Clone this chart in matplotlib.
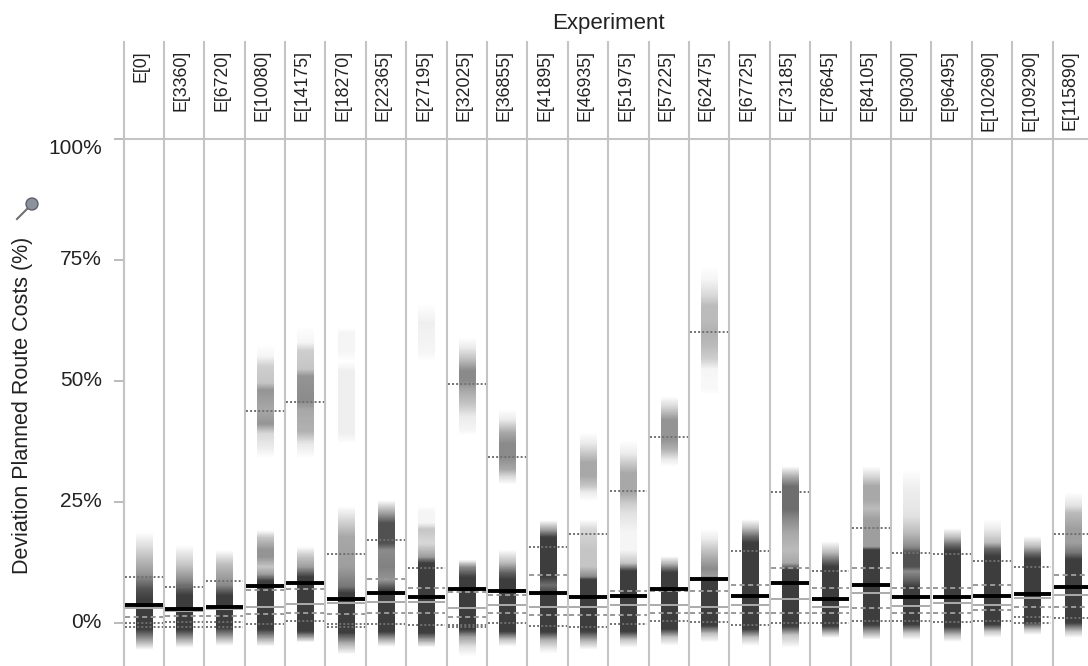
import numpy as np
import matplotlib.pyplot as plt
from matplotlib import font_manager
from matplotlib.colors import LinearSegmentedColormap
from matplotlib.transforms import blended_transform_factory
from matplotlib.patches import Ellipse

plt.rcParams['font.family'] = ['Liberation Sans', 'DejaVu Sans']

# experiment columns
experiments = ['E[0]', 'E[3360]', 'E[6720]', 'E[10080]', 'E[14175]', 'E[18270]',
               'E[22365]', 'E[27195]', 'E[32025]', 'E[36855]', 'E[41895]', 'E[46935]',
               'E[51975]', 'E[57225]', 'E[62475]', 'E[67725]', 'E[73185]', 'E[78645]',
               'E[84105]', 'E[90300]', 'E[96495]', 'E[102690]', 'E[109290]', 'E[115890]']

# summary statistics per experiment (%)
p90 = [9.5, 7.4, 8.7, 43.8, 45.5, 14.2, 17.1, 11.2, 49.3, 34.3, 15.7, 18.3,
       27.3, 38.4, 60.0, 14.9, 26.9, 10.7, 19.5, 14.5, 14.2, 12.8, 11.6, 18.3]
q3 = [3.7, 2.9, 3.3, 6.8, 7.0, 4.8, 9.0, 7.1, 6.3, 5.7, 9.85, 5.25,
      6.6, 6.5, 6.6, 7.8, 11.2, 7.1, 11.2, 7.1, 7.1, 7.8, 5.9, 9.85]
means = [3.7, 2.8, 3.15, 7.65, 8.1, 4.8, 6.1, 5.25, 6.9, 6.6, 6.1, 5.25,
         5.6, 6.9, 8.96, 5.6, 8.1, 4.8, 7.8, 5.25, 5.25, 5.6, 5.9, 7.3]
medians = [3.0, 2.5, 2.8, 3.3, 3.9, 4.0, 4.35, 4.35, 3.0, 3.7, 3.3, 3.3,
           3.7, 3.7, 3.3, 3.7, 4.9, 3.3, 6.2, 3.4, 4.0, 3.7, 5.0, 5.7]
q1 = [1.25, 1.3, 1.3, 1.7, 2.1, 1.7, 2.1, 2.1, 1.25, 2.1, 1.6, 1.6,
      1.6, 2.1, 2.1, 2.1, 2.1, 2.1, 3.0, 2.1, 2.1, 2.6, 3.3, 3.3]
p10 = [0.0, 0.1, 0.1, -0.3, 0.4, -0.3, -0.3, -0.5, -0.5, 0.0, -0.6, -0.8,
       -0.3, 0.4, 0.2, -0.5, 0.0, 0.0, 0.4, 0.4, 0.2, 0.4, 1.25, 0.9]
p5 = [-0.8, -0.8, -0.8, None, None, -0.8, None, None, -0.8, None, None, None,
      None, None, None, None, None, None, None, None, None, None, 0.0, None]

# density strips: (value %, darkness 0..1)
density = [
    [(18.5, 0), (16, 0.15), (13, 0.35), (9.8, 0.55), (6.7, 0.9), (4.7, 1), (-1.5, 1), (-3.6, 0.5), (-5.7, 0)],
    [(16, 0), (11.9, 0.3), (8.8, 0.6), (5.7, 1), (-1.5, 1), (-3.6, 0.4), (-5.2, 0)],
    [(15, 0), (11.9, 0.35), (7.8, 0.6), (5.7, 1), (-1.1, 1), (-3.2, 0.4), (-4.8, 0)],
    [(57.4, 0), (55, 0.05), (52.9, 0.25), (49.5, 0.3), (48, 0.55), (44, 0.45), (41, 0.55), (39, 0.2),
     (35.7, 0.08), (34, 0), (19, 0), (17.5, 0.3), (15, 0.55), (13.5, 0.55), (11.5, 0.3), (10, 0.5),
     (8.5, 1), (-1.5, 1), (-3.5, 0.4), (-5, 0)],
    [(61.5, 0), (58, 0.05), (56.3, 0.25), (52.5, 0.3), (51, 0.55), (46, 0.6), (44, 0.45), (39.5, 0.4),
     (37, 0.12), (34, 0), (15.7, 0), (13.6, 0.3), (11.5, 0.5), (9.4, 1), (-1.9, 1), (-4.2, 0)],
    [(61, 0), (60, 0.05), (56, 0.05), (54, 0), (52, 0.08), (39, 0.08), (37, 0), (24, 0), (21.2, 0.2),
     (17.7, 0.45), (11.5, 0.5), (7.4, 0.7), (6.1, 1), (-2.2, 1), (-4.5, 0.4), (-6.7, 0)],
    [(25.3, 0), (22.6, 0.5), (20.6, 0.9), (16.4, 0.9), (15, 0.6), (11.5, 0.65), (8.8, 0.55), (6.7, 1),
     (-1.9, 1), (-3.6, 0.4), (-5, 0)],
    [(66, 0), (62, 0.08), (56, 0.05), (54, 0), (24, 0), (23, 0.05), (20.6, 0.05), (19.2, 0.3), (16.4, 0.2),
     (13.6, 0.5), (12.3, 1), (-2.2, 1), (-3.9, 0.4), (-5.2, 0)],
    [(59, 0), (57, 0.1), (54.3, 0.35), (52.2, 0.6), (50.1, 0.6), (48, 0.45), (45.3, 0.3), (42.6, 0.1),
     (39.8, 0.05), (38.8, 0), (13, 0), (11.5, 0.6), (9.4, 1), (-1.5, 1), (-2.9, 0.5), (-5, 0.15), (-7, 0)],
    [(44, 0), (41.9, 0.1), (39.2, 0.45), (37, 0.6), (34.3, 0.6), (31.6, 0.45), (30.2, 0.2), (28.5, 0),
     (15, 0), (12.3, 0.35), (10.3, 0.8), (8.9, 1), (-1.9, 1), (-3.6, 0.3), (-5, 0)],
    [(21.2, 0), (19.2, 0.5), (17.7, 1), (9.4, 1), (7.8, 0.75), (6.1, 1), (-1.9, 1), (-3.6, 0.4),
     (-5.4, 0.1), (-6.4, 0)],
    [(39.2, 0), (37, 0.1), (33, 0.45), (30.2, 0.45), (28.2, 0.3), (26.8, 0.1), (25, 0), (21.2, 0),
     (19.2, 0.2), (15, 0.3), (11.5, 0.3), (9.4, 0.6), (8.8, 1), (-1.9, 1), (-4, 0.35), (-5.7, 0)],
    [(37.7, 0), (35, 0.1), (30.9, 0.45), (26.8, 0.45), (24.5, 0.25), (22.6, 0.15), (18.5, 0.05),
     (15, 0.05), (12.3, 0.3), (10.7, 1), (-1.9, 1), (-3.6, 0.3), (-5.2, 0)],
    [(46.7, 0), (44.6, 0.2), (41.9, 0.55), (37.7, 0.55), (35.7, 0.4), (33.6, 0.1), (32.2, 0), (13.6, 0),
     (12, 0.4), (10.3, 1), (-1.5, 1), (-3.2, 0.3), (-4.9, 0)],
    [(73.6, 0), (70.8, 0.05), (67.4, 0.2), (65.3, 0.35), (62.5, 0.35), (59.8, 0.4), (57, 0.35),
     (54.3, 0.25), (52.2, 0.05), (48, 0.03), (47, 0), (19.2, 0), (17.1, 0.1), (13.6, 0.4), (10.9, 0.6),
     (9.4, 0.5), (8.4, 1), (-0.8, 1), (-2.6, 0.3), (-4.3, 0)],
    [(21.2, 0), (19.5, 0.3), (17.7, 0.75), (16.4, 1), (-1.5, 1), (-3.2, 0.3), (-4.9, 0)],
    [(32.2, 0), (30.2, 0.4), (28.1, 0.75), (23.3, 0.75), (21.2, 0.6), (18.5, 0.45), (15, 0.35),
     (12.3, 0.45), (10.9, 1), (-0.8, 1), (-2.6, 0.3), (-5.2, 0)],
    [(16.7, 0), (14.4, 0.35), (12.5, 0.8), (11.5, 1), (-0.8, 1), (-2.2, 0.35), (-3.2, 0)],
    [(32.2, 0), (30.2, 0.2), (28.1, 0.45), (25.3, 0.45), (23.5, 0.35), (21.2, 0.5), (15.6, 0.5),
     (15, 1), (-0.5, 1), (-1.9, 0.5), (-3.6, 0)],
    [(31.6, 0), (28.1, 0.08), (24, 0.12), (21.9, 0.15), (18.5, 0.35), (15.6, 0.6), (14.4, 0.9),
     (11.5, 0.9), (10.5, 0.6), (8.8, 0.8), (7.4, 1), (-0.5, 1), (-2.2, 0.3), (-3.6, 0)],
    [(19.6, 0), (17.7, 0.35), (16, 0.8), (15, 1), (-0.8, 1), (-2.5, 0.35), (-3.9, 0)],
    [(21.2, 0), (19.2, 0.1), (16.4, 0.35), (15, 0.8), (13.6, 1), (-0.5, 1), (-1.9, 0.3), (-3.2, 0)],
    [(17.7, 0), (15.6, 0.35), (14, 0.8), (13, 1), (-0.1, 1), (-1.5, 0.3), (-2.6, 0)],
    [(26.8, 0), (24, 0.15), (22.6, 0.35), (19.2, 0.5), (16.4, 0.5), (14.4, 0.7), (13, 1), (-0.1, 1),
     (-1.9, 0.3), (-3.2, 0)],
]

yticks = [0, 25, 50, 75, 100]

# header labels look condensed: use the narrow face if it is there
installed = {f.name for f in font_manager.fontManager.ttflist}
if 'Liberation Sans Narrow' in installed:
    head_font, head_size = ['Liberation Sans Narrow', 'Liberation Sans'], 14.5
else:
    head_font, head_size = ['Liberation Sans', 'DejaVu Sans'], 12.8

W, H = 1088, 666
fig = plt.figure(figsize=(W / 100, H / 100), dpi=100)
ax = fig.add_axes([123.5 / W, 0, 969.6 / W, (H - 138.7) / H])
bt = blended_transform_factory(ax.transData, fig.transFigure)

strip_rgb = (0.24, 0.24, 0.24)
ramp = np.linspace(0, 1, 600).reshape(-1, 1)
for i, stops in enumerate(density):
    stops = sorted(stops)
    lo, hi = stops[0][0], stops[-1][0]
    cm = LinearSegmentedColormap.from_list(
        'strip%d' % i, [((v - lo) / (hi - lo), strip_rgb + (d,)) for v, d in stops], N=512)
    ax.imshow(ramp, cmap=cm, extent=(i - 0.2, i + 0.2, lo, hi), origin='lower',
              aspect='auto', interpolation='bilinear', zorder=1)


def hline(i, v, **kw):
    ax.plot([i - 0.47, i + 0.47], [v, v], solid_capstyle='butt', dash_capstyle='butt', **kw)


dot = dict(color='#707070', lw=1.4, ls=(0, (1.0, 1.1)), zorder=3)
dash = dict(color='#999999', lw=1.4, ls=(0, (2.6, 1.8)), zorder=3)
for i in range(len(experiments)):
    hline(i, p90[i], **dot)
    hline(i, p10[i], **dot)
    if p5[i] is not None:
        hline(i, p5[i], **dot)
    hline(i, q3[i], **dash)
    hline(i, q1[i], **dash)
    hline(i, medians[i], color='#ababab', lw=1.4, zorder=4)
    hline(i, means[i], color='black', lw=2.8, zorder=5)

# column separators, running up into the header
for k in range(len(experiments) + 1):
    ax.plot([k - 0.5, k - 0.5], [0, 1 - 42 / H], transform=bt, color='#c4c4c4',
            lw=1.5, clip_on=False, zorder=0)

for i, name in enumerate(experiments):
    ax.text(i - 0.07, 1 - 50 / H, name, transform=bt, rotation=90, ha='center', va='top',
            fontsize=head_size, family=head_font, color='#222222')

ax.set_xlim(-0.5, len(experiments) - 0.5)
ax.set_ylim(-8.95, 100)
ax.set_xticks([])
ax.set_yticks(yticks)
ax.set_yticklabels([])
ax.tick_params(axis='y', length=7.2, width=1.3, color='#b5b5b5')
for s in ['right', 'bottom']:
    ax.spines[s].set_visible(False)
for s in ['left', 'top']:
    ax.spines[s].set_color('#c4c4c4')
    ax.spines[s].set_linewidth(1.5)

yt = ax.get_yaxis_transform()
lx = -(123.5 - 102) / 969.6
for t in yticks:
    ax.text(lx, t, '%d%%' % t, transform=yt, ha='right', va='top' if t == 100 else 'center',
            fontsize=15, color='#222222', clip_on=False)

fig.text(23 / W, 1 - 405.5 / H, 'Deviation Planned Route Costs (%)', rotation=90,
         ha='center', va='center', fontsize=15.5, color='#222222')
fig.text(608 / W, 1 - 24 / H, 'Experiment', ha='center', va='center', fontsize=16,
         color='#222222')

# little pin icon next to the axis title
fig.add_artist(plt.Line2D([27 / W, 17 / W], [1 - 209 / H, 1 - 219 / H], color='#707070', lw=1.5))
fig.add_artist(Ellipse((32 / W, 1 - 204 / H), 12 / W, 12 / H, facecolor='#8c929c',
                       edgecolor='#5d626b', lw=1))

fig.savefig('out.png', dpi=100)
